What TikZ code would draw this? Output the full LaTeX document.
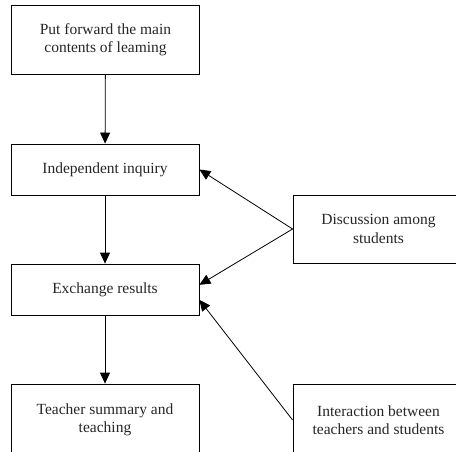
\documentclass[tikz,border=0pt]{standalone}
\usepackage{fontspec}
\setmainfont{Liberation Serif}
\usetikzlibrary{arrows.meta,positioning,calc}

\begin{document}
\begin{tikzpicture}[x=1pt, y=-1pt,
    box/.style={draw, line width=0.8pt, minimum width=188pt, align=center, inner sep=0pt, text=black!85, font=\fontsize{15.5}{18.3}\selectfont},
    sidebox/.style={box, minimum width=171pt},
    arr/.style={line width=0.8pt, -{Triangle[length=11pt, width=10pt]}}]
    % frame
    \clip (0,0) rectangle (456,452);
    \useasboundingbox (0,0) rectangle (456,452);

    % main column
    \node[box, minimum height=69pt] (goal) at (105.5,39.5) {Put forward the main\\contents of leaming};
    \node[box, minimum height=51pt] (inquiry) at (105,169.5) {Independent inquiry};
    \node[box, minimum height=51pt] (exch) at (105,289.5) {Exchange results};
    \node[box, minimum height=72pt] (summary) at (105,420) {Teacher summary and\\teaching};

    % right column
    \node[sidebox, minimum height=68pt] (disc) at (378.5,229) {Discussion among\\students};
    \node[sidebox, minimum height=72pt] (inter) at (378.5,420) {Interaction between\\teachers and students};

    % arrows
    \draw[arr] (goal) -- (inquiry);
    \draw[arr] (inquiry) -- (exch);
    \draw[arr] (exch) -- (summary);
    \draw[arr] (disc.west) -- (inquiry.east);
    \draw[arr] (disc.west) -- ($(exch.south east)!0.59!(exch.north east)$);
    \draw[arr] (inter.west) -- ($(exch.south east)!0.3!(exch.north east)$);
\end{tikzpicture}
\end{document}
